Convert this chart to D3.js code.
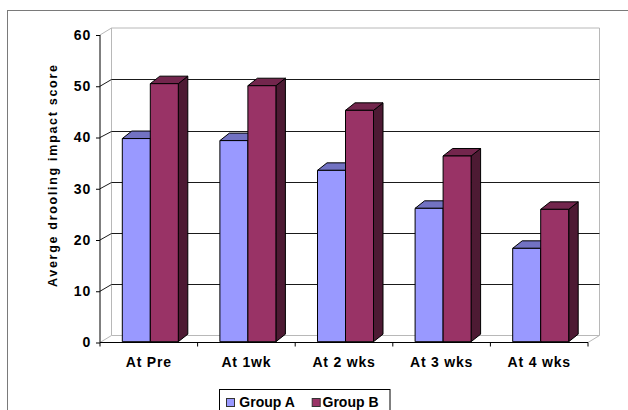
<!DOCTYPE html>
<html>
<head>
<meta charset="utf-8">
<script src="https://cdn.jsdelivr.net/npm/d3@7"></script>
<style>
  html, body { margin: 0; padding: 0; background: #fff; }
  svg { display: block; }
  text { font-family: "Liberation Sans", Arial, sans-serif; font-weight: bold; fill: #000; }
</style>
</head>
<body>
<svg id="chart" width="628" height="410"></svg>
<script>
const categories = ["At Pre", "At 1wk", "At 2 wks", "At 3 wks", "At 4 wks"];
const groups = ["Group A", "Group B"];
const groupA = [39.6, 39.2, 33.4, 26.0, 18.2];
const groupB = [50.3, 49.9, 45.1, 36.2, 25.8];
const yTicks = [0, 10, 20, 30, 40, 50, 60];
const yTitle = "Averge drooling impact score";

const colors = {
  "Group A": { front: "#9999FF", top: "#7272C2", side: "#4D4D80" },
  "Group B": { front: "#993366", top: "#73264D", side: "#4D1A33" }
};

const svg = d3.select("#chart");

// chart outer border (cut by window on right/bottom)
svg.append("rect").attr("x", 7.5).attr("y", 10.5).attr("width", 700).attr("height", 500)
  .attr("fill", "none").attr("stroke", "#7a7a7a").attr("stroke-width", 1);

// scales
const yFront = d3.scaleLinear().domain([0, 60]).range([342.5, 35]);
const x0 = d3.scaleBand().domain(categories).range([100, 588]);
const x1 = d3.scaleBand().domain(groups).range([22.3, 78.3]);
const yBar = d3.scaleLinear().domain([0, 60]).range([341.7, 341.7 - 6 * 51.3]);
const floor = { dx: 11.5, dy: -7 };
const depth = { dx: 9.5, dy: -7.5 };
const yBack = v => yFront(v) + floor.dy;
const xL = x0.range()[0], xR = x0.range()[1];

// walls frame (gray)
const frame = svg.append("g").attr("fill", "none").attr("stroke", "#b8b8b8").attr("stroke-width", 1);
frame.append("line").attr("x1", xL + floor.dx).attr("x2", xR + floor.dx).attr("y1", yBack(60)).attr("y2", yBack(60));
frame.append("line").attr("x1", xR + floor.dx).attr("x2", xR + floor.dx).attr("y1", yBack(60)).attr("y2", yBack(0));
frame.append("line").attr("x1", xL + floor.dx).attr("x2", xL + floor.dx).attr("y1", yBack(60)).attr("y2", yBack(0));
frame.append("line").attr("x1", xL + floor.dx).attr("x2", xR + floor.dx).attr("y1", yBack(0)).attr("y2", yBack(0));
frame.append("line").attr("x1", xL).attr("x2", xL + floor.dx).attr("y1", yFront(60)).attr("y2", yBack(60));
frame.append("line").attr("x1", xL).attr("x2", xL + floor.dx).attr("y1", yFront(0)).attr("y2", yBack(0));
frame.append("line").attr("x1", xR).attr("x2", xR + floor.dx).attr("y1", yFront(0)).attr("y2", yBack(0));

// gridlines
const grid = svg.append("g").attr("stroke", "#1a1a1a").attr("stroke-width", 1);
yTicks.filter(v => v > 0 && v < 60).forEach(v => {
  grid.append("line").attr("x1", xL + floor.dx).attr("x2", xR + floor.dx)
    .attr("y1", Math.round(yBack(v)) + 0.5).attr("y2", Math.round(yBack(v)) + 0.5);
  grid.append("line").attr("x1", xL).attr("x2", xL + floor.dx)
    .attr("y1", yFront(v)).attr("y2", Math.round(yBack(v)) + 0.5);
});

// bars
const data = categories.map((c, i) => ({ c, vals: [groupA[i], groupB[i]] }));
const barsG = svg.append("g").attr("stroke", "#000").attr("stroke-width", 1).attr("stroke-linejoin", "round");
data.forEach(d => {
  groups.forEach((g, gi) => {
    const v = d.vals[gi];
    const x = x0(d.c) + x1(g);
    const w = x1.bandwidth();
    const yt = yBar(v), yb = yBar(0);
    const col = colors[g];
    barsG.append("path").attr("fill", col.side)
      .attr("d", `M${x + w},${yb} L${x + w + depth.dx},${yb + depth.dy} L${x + w + depth.dx},${yt + depth.dy} L${x + w},${yt} Z`);
    barsG.append("path").attr("fill", col.top)
      .attr("d", `M${x},${yt} L${x + depth.dx},${yt + depth.dy} L${x + w + depth.dx},${yt + depth.dy} L${x + w},${yt} Z`);
    barsG.append("rect").attr("fill", col.front)
      .attr("x", x).attr("y", yt).attr("width", w).attr("height", yb - yt);
  });
});

// y axis
const yAxis = d3.axisLeft(yFront).tickValues(yTicks).tickSize(4).tickPadding(5).tickFormat(d3.format("d"));
const yG = svg.append("g").attr("transform", `translate(${xL},0)`).call(yAxis);
yG.select(".domain").attr("stroke", "#000").attr("d", `M-0,${yFront(60)}V${yFront(0)}`);
yG.selectAll(".tick line").attr("stroke", "#000");
yG.selectAll(".tick text").attr("font-size", 14).attr("letter-spacing", "0.8px")
  .style("font-family", "'Liberation Sans', Arial, sans-serif").style("font-weight", "bold").attr("fill", "#000");

// x axis
const xAxis = d3.axisBottom(x0).tickSize(0).tickPadding(15);
const xG = svg.append("g").attr("transform", `translate(0,${yFront(0)})`).call(xAxis);
xG.select(".domain").attr("stroke", "#000").attr("d", `M${xL},0H${xR}`);
xG.selectAll(".tick text").attr("font-size", 14).attr("letter-spacing", "0.8px")
  .style("font-family", "'Liberation Sans', Arial, sans-serif").style("font-weight", "bold").attr("fill", "#000");
const edges = categories.map(c => x0(c)).concat([xR]);
xG.selectAll("line.edge").data(edges).enter().append("line").attr("class", "edge")
  .attr("x1", d => d).attr("x2", d => d).attr("y1", 0).attr("y2", 4).attr("stroke", "#000");

// y title
svg.append("text")
  .attr("transform", `translate(57,176) rotate(-90)`)
  .attr("text-anchor", "middle")
  .attr("font-size", 12.5)
  .attr("textLength", 222).attr("lengthAdjust", "spacing")
  .text(yTitle);

// legend
const lg = svg.append("g");
lg.append("rect").attr("x", 219.5).attr("y", 389.5).attr("width", 170.5).attr("height", 40)
  .attr("fill", "#fff").attr("stroke", "#000");
const legendX = [{ sx: 226, tx: 239.3 }, { sx: 311.7, tx: 322.5 }];
groups.forEach((g, i) => {
  lg.append("rect").attr("x", legendX[i].sx + 0.5).attr("y", 398.5).attr("width", 8).attr("height", 8)
    .attr("fill", colors[g].front).attr("stroke", "#333");
  lg.append("text").attr("x", legendX[i].tx).attr("y", 406.5).attr("font-size", 14).text(g);
});
</script>
</body>
</html>
